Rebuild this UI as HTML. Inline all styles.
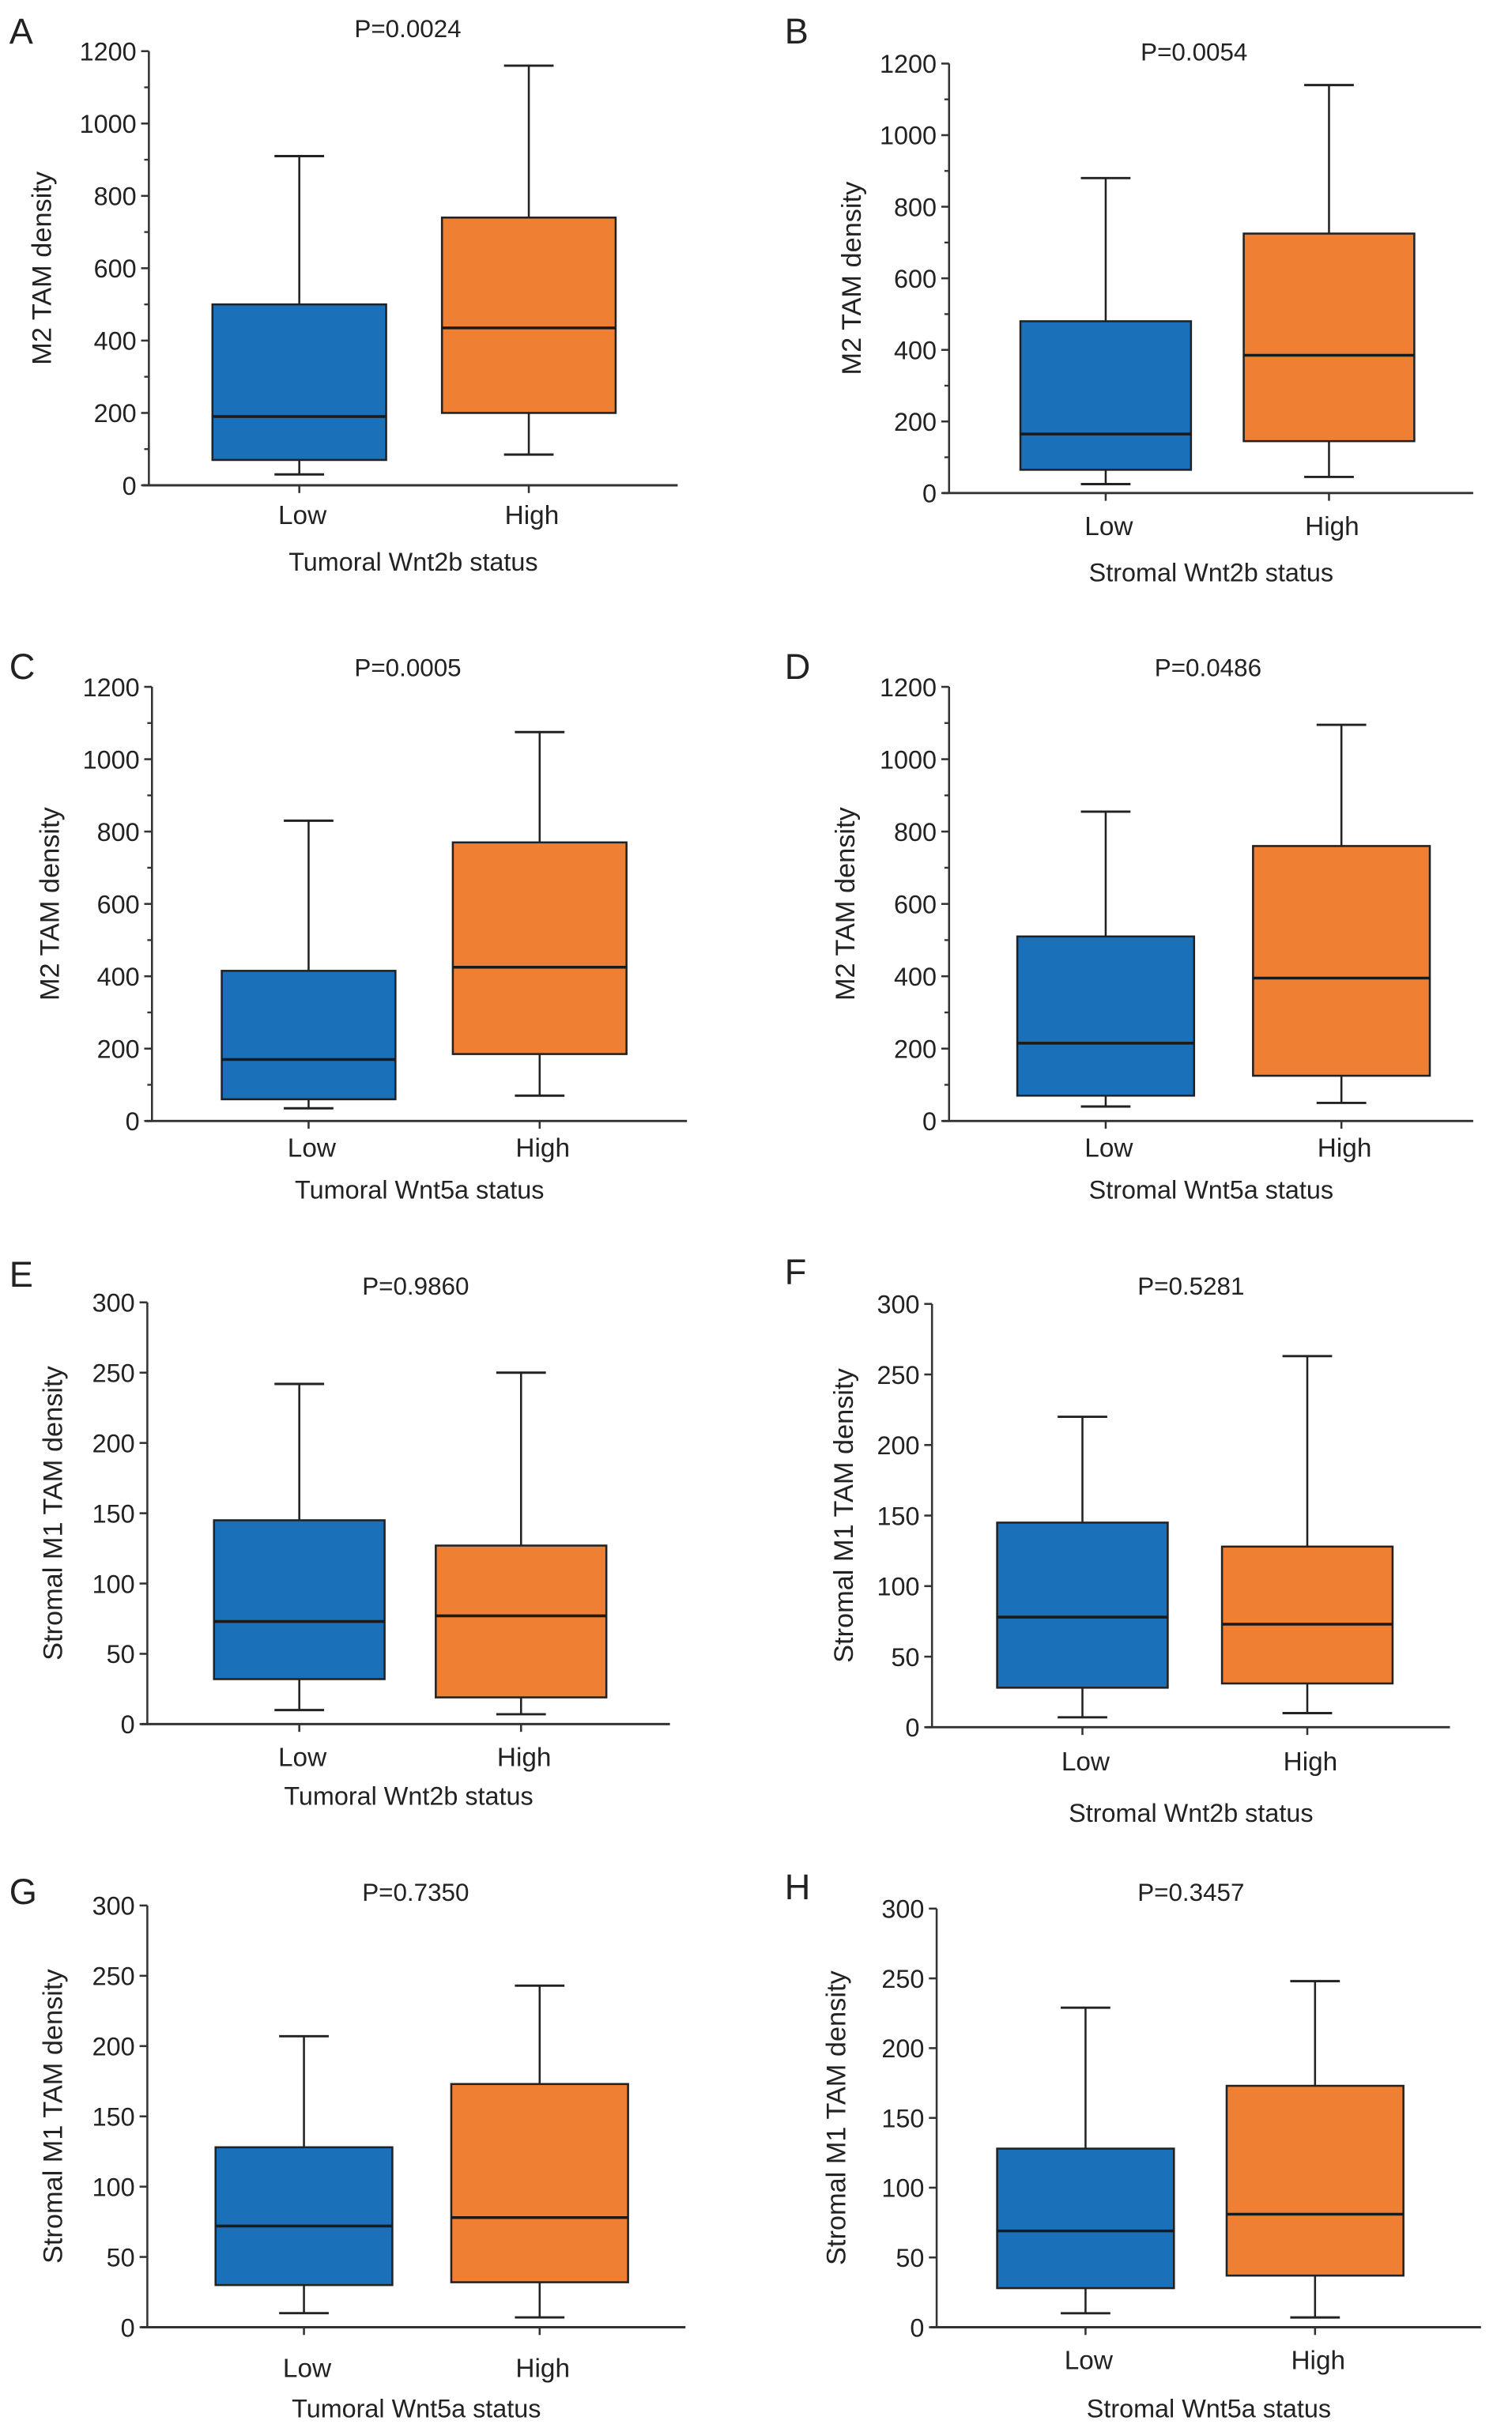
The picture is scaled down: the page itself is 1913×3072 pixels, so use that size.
<!DOCTYPE html>
<html><head><meta charset="utf-8"><style>
html,body{margin:0;padding:0;background:#fff;}
svg{display:block;}
text{font-family:"Liberation Sans",sans-serif;fill:#222;}
</style></head><body>
<svg id="fig" width="1913" height="3072" viewBox="0 0 975 1566" preserveAspectRatio="none" xmlns="http://www.w3.org/2000/svg"></svg>
<script>
// Data per panel
const panelLetters = ["A","B","C","D","E","F","G","H"];
const pValues = ["P=0.0024","P=0.0054","P=0.0005","P=0.0486","P=0.9860","P=0.5281","P=0.7350","P=0.3457"];
const xTitles = ["Tumoral Wnt2b status","Stromal Wnt2b status","Tumoral Wnt5a status","Stromal Wnt5a status","Tumoral Wnt2b status","Stromal Wnt2b status","Tumoral Wnt5a status","Stromal Wnt5a status"];
const yTitles = ["M2 TAM density","M2 TAM density","M2 TAM density","M2 TAM density","Stromal M1 TAM density","Stromal M1 TAM density","Stromal M1 TAM density","Stromal M1 TAM density"];
const categories = ["Low","High"];
const yMaxes = [1200,1200,1200,1200,300,300,300,300];
const yTickSteps = [200,200,200,200,50,50,50,50];
// [min,q1,median,q3,max] for Low and High
const lowStats = [
 [30,70,190,500,910],[25,65,165,480,880],[35,60,170,415,830],[40,70,215,510,855],
 [10,32,73,145,242],[7,28,78,145,220],[10,30,72,128,207],[10,28,69,128,229]];
const highStats = [
 [85,200,435,740,1160],[45,145,385,725,1140],[70,185,425,770,1075],[50,125,395,760,1095],
 [7,19,77,127,250],[10,31,73,128,263],[7,32,78,173,243],[7,37,81,173,248]];

// layout (display units)
const L = [
 {ax:96,y0:313,y1:33,xe:437,cx:[193,341],hw:56,px:263,py:18,lx:6,ly:28,yl:27,xl:332,xt:362},
 {ax:612,y0:318,y1:41,xe:950,cx:[713,857],hw:55,px:770,py:33,lx:506,ly:28,yl:549,xl:339,xt:369},
 {ax:98,y0:723,y1:443,xe:443,cx:[199,348],hw:56,px:263,py:430,lx:6,ly:438,yl:32,xl:740,xt:767},
 {ax:612,y0:723,y1:443,xe:950,cx:[713,865],hw:57,px:779,py:430,lx:506,ly:438,yl:545,xl:740,xt:767},
 {ax:95,y0:1112,y1:840,xe:432,cx:[193,336],hw:55,px:268,py:829,lx:6,ly:830,yl:34,xl:1133,xt:1158},
 {ax:601,y0:1114,y1:841,xe:935,cx:[698,843],hw:55,px:768,py:829,lx:506,ly:828,yl:544,xl:1136,xt:1169},
 {ax:95,y0:1501,y1:1229,xe:442,cx:[196,348],hw:57,px:268,py:1220,lx:6,ly:1228,yl:34,xl:1527,xt:1553},
 {ax:604,y0:1501,y1:1231,xe:955,cx:[700,848],hw:57,px:768,py:1220,lx:506,ly:1225,yl:539,xl:1522,xt:1553}
];
const svg = document.getElementById('fig');
const NS = 'http://www.w3.org/2000/svg';
function mk(tag, attrs, parent){ const e=document.createElementNS(NS,tag); for(const k in attrs) e.setAttribute(k,attrs[k]); parent.appendChild(e); return e; }
const colors = ['#1b70ba','#ef7f33'];

for(let i=0;i<8;i++){
  const g = mk('g',{},svg);
  
  
  const o = L[i];
  const yScale = v => o.y0 - (v/yMaxes[i])*(o.y0-o.y1);
  let t = mk('text',{x:o.lx,y:o.ly,'font-size':23},g); t.textContent=panelLetters[i];
   
  t = mk('text',{x:o.px,y:o.py+6,'font-size':16,'text-anchor':'middle'},g); t.textContent=pValues[i];
   
  // axes
  let a = mk('line',{x1:o.ax,y1:o.y1,x2:o.ax,y2:o.y0,stroke:'#333','stroke-width':1.3},g);
   
  a = mk('line',{x1:o.ax-4,y1:o.y0,x2:o.xe,y2:o.y0,stroke:'#333','stroke-width':1.5},g);
   
  const step = yTickSteps[i];
  for(let v=0; v<=yMaxes[i]; v+=step){
    const y=yScale(v);
    mk('line',{x1:o.ax-5,y1:y,x2:o.ax,y2:y,stroke:'#333','stroke-width':1.3},g);
    t = mk('text',{x:o.ax-8,y:y+6,'font-size':16.5,'text-anchor':'end'},g); t.textContent=v;
     
    if(yMaxes[i]===1200 && v<yMaxes[i]){
      const ym=yScale(v+step/2);
      mk('line',{x1:o.ax-3,y1:ym,x2:o.ax,y2:ym,stroke:'#333','stroke-width':1.2},g);
    }
  }
  t = mk('text',{x:0,y:0,'font-size':17.5,'text-anchor':'middle',transform:`translate(${o.yl+6},${(o.y0+o.y1)/2}) rotate(-90)`},g);
  t.textContent=yTitles[i];  
  t = mk('text',{x:(o.ax+o.xe)/2,y:o.xt+6,'font-size':16.5,'text-anchor':'middle'},g);
  t.textContent=xTitles[i];  
  const stats=[lowStats[i],highStats[i]];
  for(let c=0;c<2;c++){
    const s=stats[c], cx=o.cx[c], hw=o.hw;
    mk('line',{x1:cx,y1:o.y0,x2:cx,y2:o.y0+5,stroke:'#333','stroke-width':1.3},g);
    t = mk('text',{x:cx+2,y:o.xl+6,'font-size':17,'text-anchor':'middle'},g); t.textContent=categories[c];
     
    const bg = mk('g',{},g);
    
    
    mk('line',{x1:cx,y1:yScale(s[0]),x2:cx,y2:yScale(s[4]),stroke:'#222','stroke-width':1.3},bg);
    mk('line',{x1:cx-16,y1:yScale(s[0]),x2:cx+16,y2:yScale(s[0]),stroke:'#222','stroke-width':1.5},bg);
    mk('line',{x1:cx-16,y1:yScale(s[4]),x2:cx+16,y2:yScale(s[4]),stroke:'#222','stroke-width':1.5},bg);
    mk('rect',{x:cx-hw,y:yScale(s[3]),width:2*hw,height:yScale(s[1])-yScale(s[3]),fill:colors[c],stroke:'#222','stroke-width':1.3},bg);
    mk('line',{x1:cx-hw,y1:yScale(s[2]),x2:cx+hw,y2:yScale(s[2]),stroke:'#1a1a1a','stroke-width':1.8},bg);
  }
}
</script>
</body></html>
